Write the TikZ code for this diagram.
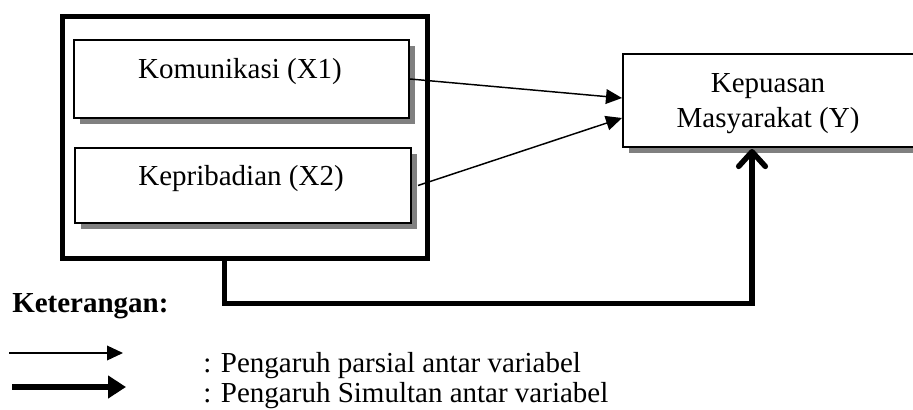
\documentclass[tikz,border=0pt]{standalone}
\usepackage{fontspec}
\setmainfont{Liberation Serif}
\usetikzlibrary{arrows.meta,shadows,calc}
\begin{document}
\begin{tikzpicture}[x=0.75pt,y=-0.75pt,
  font=\fontsize{21.75}{26}\selectfont,
  varbox/.style={draw, line width=1.5pt, fill=white, inner sep=0pt, anchor=north west,
     drop shadow={shadow xshift=4.5pt, shadow yshift=-4.5pt, fill=black!50, opacity=1}},
  outerbox/.style={draw, line width=4.1pt, inner sep=0pt, anchor=north west},
  txt/.style={anchor=base, inner sep=0pt},
  ltxt/.style={anchor=base west, inner sep=0pt},
  thinarrow/.style={line width=1.1pt, -{Triangle[length=12pt,width=11pt]}},
  thickarrow/.style={line width=4.1pt, -{Straight Barb[length=11pt,width=20pt,round]}},
  legthick/.style={line width=4.5pt, -{Triangle[length=13.5pt,width=16.5pt]}}]
\useasboundingbox (0,0) rectangle (913,410);

\node[outerbox, minimum width=273.75pt, minimum height=181.5pt] (outer) at (60,14) {};
\node[varbox, minimum width=251.25pt, minimum height=58.5pt] (x1) at (73,39) {};
\node[varbox, minimum width=252pt, minimum height=56.25pt] (x2) at (74,147) {};
\node[varbox, minimum width=219pt, minimum height=69.75pt] (yb) at (622,53) {};

\node[txt] (t1) at (240,79) {Komunikasi (X1)};
\node[txt] (t2) at (241,185) {Kepribadian (X2)};
\node[txt] (t3) at (768,93) {Kepuasan};
\node[txt] (t4) at (768,127) {Masyarakat (Y)};

\draw[thinarrow] (x1.east) -- ($(yb.west)+(0,-2.5)$);
\draw[thinarrow] ($(x2.east)+(6,0)$) -- ($(yb.west)+(0,17.5)$);
\draw[thickarrow] ($(outer.south)+(-20.5,0)$) -- ++(0,42) -| ($(yb.south)+(-17,1)$);

\node[ltxt] (ket) at (12,312) {\bfseries Keterangan:};
\coordinate (a1s) at (9,353);
\coordinate (a1e) at (123,353);
\coordinate (a2s) at (12,387);
\coordinate (a2e) at (126,387);
\draw[thinarrow] (a1s) -- (a1e);
\draw[legthick] (a2s) -- (a2e);
\node[ltxt] (l1) at (203,372) {: Pengaruh parsial antar variabel};
\node[ltxt] (l2) at (203,402) {: Pengaruh Simultan antar variabel};
\end{tikzpicture}
\end{document}
